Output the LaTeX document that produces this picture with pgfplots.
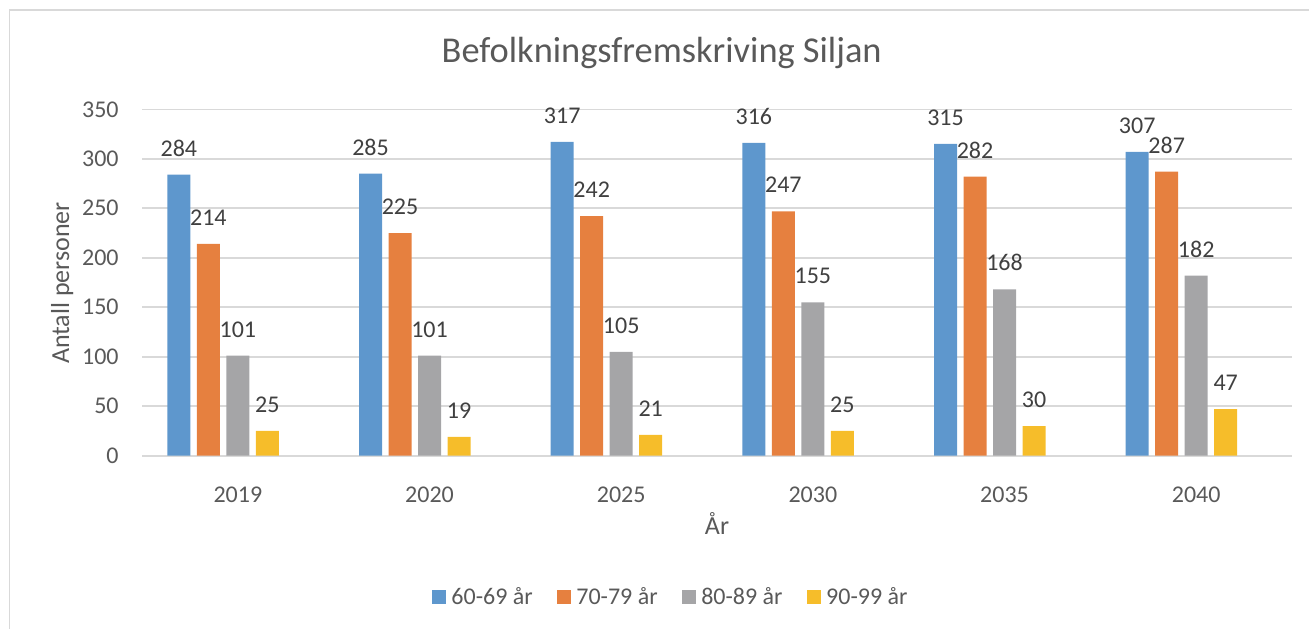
\documentclass[border=0pt]{standalone}
\usepackage{fontspec}
\setmainfont{Carlito}
\usepackage{pgfplots}
\pgfplotsset{compat=1.18}
\definecolor{cBlue}{HTML}{5E97CD}
\definecolor{cOrange}{HTML}{E6803F}
\definecolor{cGray}{HTML}{A5A5A7}
\definecolor{cYellow}{HTML}{F6BD2A}
\definecolor{txt}{HTML}{595959}
\definecolor{lbl}{HTML}{404040}
\definecolor{grid}{HTML}{D9D9D9}
\pgfplotsset{/pgf/number format/assume math mode=true}
\begin{document}
\begin{tikzpicture}
\useasboundingbox (0,0) rectangle (654.5pt,314pt);
\draw[color=grid, line width=0.8pt] (4.65pt,-2pt) -- (4.65pt,309pt) -- (660pt,309pt);
\begin{axis}[
  at={(71pt,86.15pt)}, anchor=south west,
  scale only axis, width=575pt, height=173.2pt,
  xmin=-0.5, xmax=5.5, ymin=0, ymax=350,
  ytick={0,50,...,350},
  xtick={0,1,2,3,4,5},
  xticklabels={2019,2020,2025,2030,2035,2040},
  ymajorgrids, grid style={color=grid, line width=0.8pt},
  axis line style={draw=none}, tick style={draw=none},
  ticklabel style={font=\fontsize{12}{14}\selectfont, color=txt},
  yticklabel style={anchor=east, inner sep=0pt, xshift=-11.5pt},
  xticklabel style={anchor=north, inner sep=0pt, yshift=-11.3pt},
  ybar, bar width=11.5pt,
  nodes near coords,
  every node near coord/.append style={font=\fontsize{12}{14}\selectfont, color=lbl, anchor=south, inner sep=0pt, yshift=9pt},
  legend columns=4,
  legend style={at={(0.4591,-0.4079)}, anchor=center, draw=none, fill=none,
    font=\fontsize{12}{14}\selectfont, text=txt, inner sep=0pt,
    nodes={inner sep=0pt, text=txt},
    /tikz/every odd column/.append style={column sep=2.5pt},
    /tikz/every even column/.append style={column sep=12.3pt}},
  legend image code/.code={\fill[#1] (0pt,-3.5pt) rectangle (7pt,3.5pt);},
]
\addplot[fill=cBlue, draw=none, bar shift=-29.5pt] coordinates {(0,284) (1,285) (2,317) (3,316) (4,315) (5,307)};
\addplot[fill=cOrange, draw=none, bar shift=-14.75pt] coordinates {(0,214) (1,225) (2,242) (3,247) (4,282) (5,287)};
\addplot[fill=cGray, draw=none, bar shift=0pt] coordinates {(0,101) (1,101) (2,105) (3,155) (4,168) (5,182)};
\addplot[fill=cYellow, draw=none, bar shift=14.75pt] coordinates {(0,25) (1,19) (2,21) (3,25) (4,30) (5,47)};
\legend{60-69 år,70-79 år,80-89 år,90-99 år}
\end{axis}
\node[anchor=base, font=\fontsize{18.2}{21}\selectfont, text=txt] at (330.85pt,282.65pt) {Befolkningsfremskriving Siljan};
\node[anchor=base, font=\fontsize{13}{15}\selectfont, text=txt] at (358.5pt,46.85pt) {År};
\node[anchor=base, rotate=90, font=\fontsize{13}{15}\selectfont, text=txt] at (34.5pt,172.5pt) {Antall personer};
\end{tikzpicture}
\end{document}
